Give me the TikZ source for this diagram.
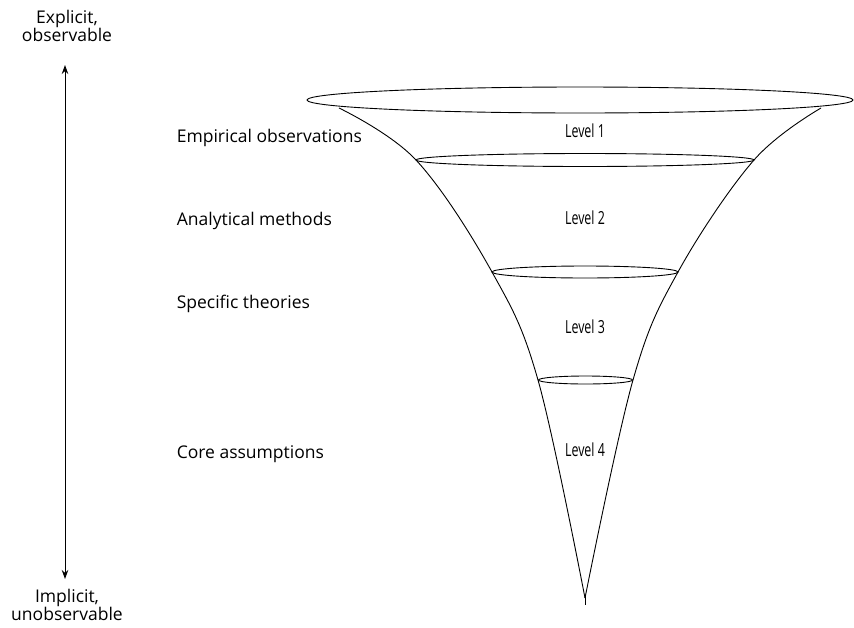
\documentclass[tikz,border=0pt]{standalone}
\usepackage{fontspec}
\setmainfont{Open Sans}
\usepackage{tikz}
\usetikzlibrary{arrows.meta}

\begin{document}
\begin{tikzpicture}[>={Stealth[length=9pt, width=6.5pt]}, x=1pt, y=-1pt, line width=0.9pt,
    every node/.style={font=\fontsize{17.5}{17.5}\selectfont},
    lvl/.style={font=\fontsize{18}{18}\selectfont, xscale=0.69, transform shape},
    side/.style={anchor=west}]

    \useasboundingbox (0,0) rectangle (854,627);

    % axis on the left: explicit at the top, implicit at the bottom
    \node[align=center] (expl) at (67,26) {Explicit,\\observable};
    \node[align=center] (impl) at (67,605) {Implicit,\\unobservable};
    \coordinate (atop) at (65,65);
    \coordinate (abot) at (65,579);
    \draw[<->] (atop) -- (abot);

    % funnel rims
    \draw (580,100) ellipse [x radius=273pt, y radius=13pt];
    \draw (585,160) ellipse [x radius=169pt, y radius=6.5pt];
    \draw (585,272) ellipse [x radius=93pt, y radius=6pt];
    \draw (585.5,380) ellipse [x radius=47pt, y radius=4pt];

    % funnel walls
    \draw plot[smooth, tension=0.6] coordinates {(339,108) (416,160) (492,272) (538,380) (585,598)};
    \draw plot[smooth, tension=0.6] coordinates {(821,108) (754,160) (678,272) (633,380) (585,598)};
    \draw (585,596) -- (585,605);

    \node[lvl] (l1) at (585,131) {Level 1};
    \node[lvl] (l2) at (585,218) {Level 2};
    \node[lvl] (l3) at (585,327) {Level 3};
    \node[lvl] (l4) at (585,450) {Level 4};

    \node[side] (emp)  at (173,138) {Empirical observations};
    \node[side] (ana)  at (173,221) {Analytical methods};
    \node[side] (spec) at (173,304) {Specific theories};
    \node[side] (core) at (173,454) {Core assumptions};

\end{tikzpicture}
\end{document}
